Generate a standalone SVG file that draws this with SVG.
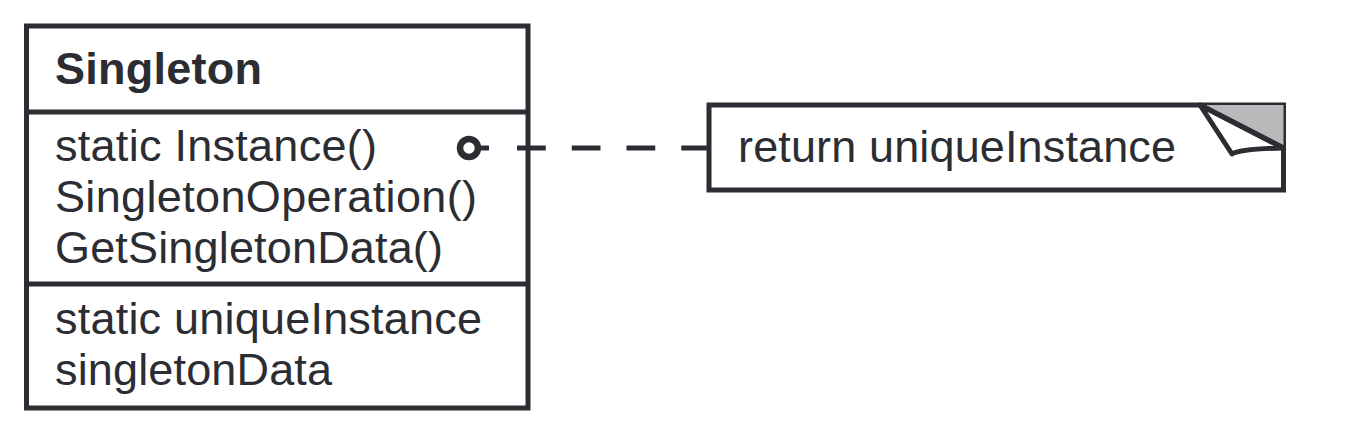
<svg xmlns="http://www.w3.org/2000/svg" width="1352" height="430" viewBox="0 0 1352 430">
<style>
.ln{fill:none;stroke:#2b2d32;stroke-width:5}
.tx{font-family:"Liberation Sans",Arial,sans-serif;font-size:45px;fill:#2b2d32}
.bd{font-weight:bold}
</style>
<rect width="1352" height="430" fill="#ffffff"/>
<g id="singleton">
<rect class="ln" x="26.5" y="26" width="501.5" height="382" fill="#ffffff"/>
<line class="ln" x1="26.5" y1="112" x2="528" y2="112"/>
<line class="ln" x1="26.5" y1="284" x2="528" y2="284"/>
<text class="tx bd" x="55" y="84" textLength="207" lengthAdjust="spacing">Singleton</text>
<text class="tx" x="55" y="161" textLength="322" lengthAdjust="spacing">static Instance()</text>
<text class="tx" x="55" y="212" textLength="422" lengthAdjust="spacing">SingletonOperation()</text>
<text class="tx" x="55" y="263" textLength="388" lengthAdjust="spacing">GetSingletonData()</text>
<text class="tx" x="55" y="334" textLength="427" lengthAdjust="spacing">static uniqueInstance</text>
<text class="tx" x="55" y="385" textLength="277" lengthAdjust="spacing">singletonData</text>
</g>
<g id="note">
<rect class="ln" x="709" y="105" width="574.5" height="85" fill="#ffffff"/>
<polygon points="1200,105 1283.5,105 1283.5,148" fill="#b9b9bb"/>
<path d="M1200,105 L1232,154 Q1240,149 1283.5,148 Z" fill="#ffffff" stroke="#2b2d32" stroke-width="5" stroke-linejoin="round"/>
<line class="ln" x1="1200" y1="105" x2="1283.5" y2="148"/>
<text class="tx" x="738" y="162" textLength="438" lengthAdjust="spacing">return uniqueInstance</text>
</g>
<g id="connectors">
<circle cx="469" cy="148" r="9" fill="#ffffff" stroke="#2b2d32" stroke-width="6.5"/>
<line class="ln" x1="478" y1="148" x2="489" y2="148"/>
<line class="ln" x1="517" y1="148" x2="709" y2="148" stroke-dasharray="28.75 26"/>
</g>
</svg>
